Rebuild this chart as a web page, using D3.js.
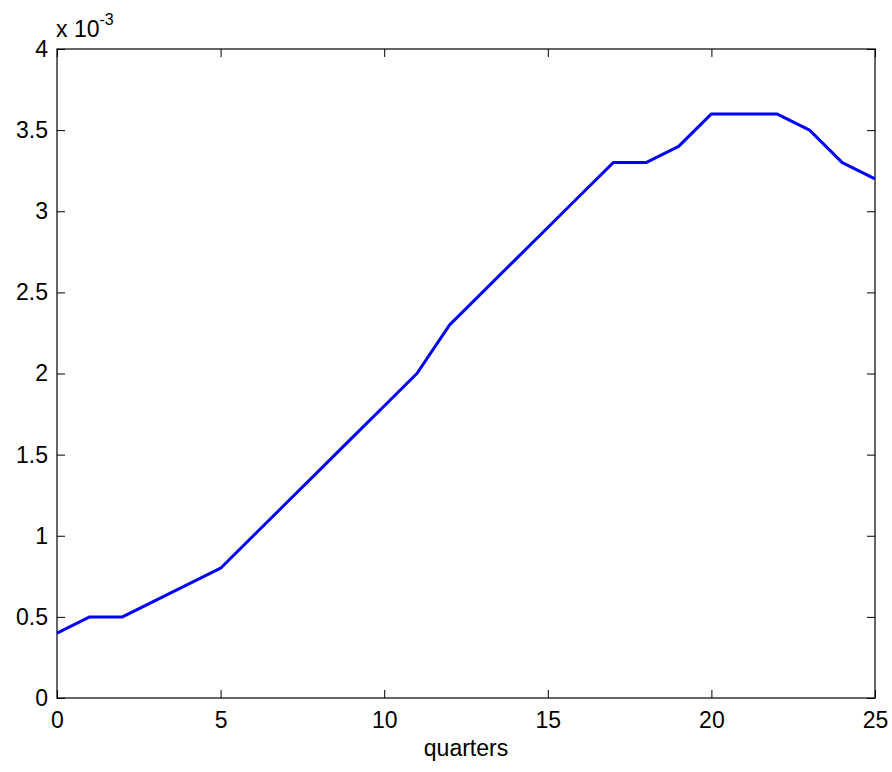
<!DOCTYPE html>
<html>
<head>
<meta charset="utf-8">
<script src="https://cdn.jsdelivr.net/npm/d3@7"></script>
<style>
  body { margin: 0; background: #fff; }
  svg text { font-family: "Liberation Sans", Arial, sans-serif; fill: #000; }
</style>
</head>
<body>
<svg id="chart" width="892" height="772"></svg>
<script>
// Data (values in units of 1e-3)
const quarters = d3.range(0, 26);
const values = [0.4, 0.5, 0.5, 0.6, 0.7, 0.8, 1.0, 1.2, 1.4, 1.6, 1.8, 2.0, 2.3, 2.5, 2.7,
                2.9, 3.1, 3.3, 3.3, 3.4, 3.6, 3.6, 3.6, 3.5, 3.3, 3.2];
const xTicks = [0, 5, 10, 15, 20, 25];
const yTicks = [0, 0.5, 1, 1.5, 2, 2.5, 3, 3.5, 4];

const margin = { left: 57, right: 17, top: 49, bottom: 74 };
const width = 892, height = 772;
const fontSize = 23;
const svg = d3.select('#chart');

const x = d3.scaleLinear().domain([0, 25]).range([margin.left, width - margin.right]);
const y = d3.scaleLinear().domain([0, 4]).range([height - margin.bottom, margin.top]);

const tickLen = 8;

// Axes with inward ticks
const xAxis = svg.append('g')
    .attr('transform', `translate(0,${y(0)})`)
    .call(d3.axisBottom(x).tickValues(xTicks).tickSizeInner(-tickLen).tickSizeOuter(0).tickPadding(14).tickFormat(d3.format('d')));
const xAxisTop = svg.append('g')
    .attr('transform', `translate(0,${y(4)})`)
    .call(d3.axisTop(x).tickValues(xTicks).tickSizeInner(-tickLen).tickSizeOuter(0).tickFormat(''));
const yAxis = svg.append('g')
    .attr('transform', `translate(${x(0)},0)`)
    .call(d3.axisLeft(y).tickValues(yTicks).tickSizeInner(-tickLen).tickSizeOuter(0).tickPadding(9).tickFormat(d3.format('')));
const yAxisRight = svg.append('g')
    .attr('transform', `translate(${x(25)},0)`)
    .call(d3.axisRight(y).tickValues(yTicks).tickSizeInner(-tickLen).tickSizeOuter(0).tickFormat(''));

[xAxis, xAxisTop, yAxis, yAxisRight].forEach(g => {
    g.attr('font-size', fontSize).attr('font-family', '"Liberation Sans", Arial, sans-serif');
    g.select('.domain').remove();
    g.selectAll('line').attr('stroke', '#000').attr('stroke-width', 1);
    g.selectAll('text').style('font-size', fontSize + 'px');
});

// Box
svg.append('rect')
    .attr('x', x(0)).attr('y', y(4))
    .attr('width', x(25) - x(0)).attr('height', y(0) - y(4))
    .attr('fill', 'none').attr('stroke', '#000').attr('stroke-width', 1.2);

// Line
const line = d3.line().x((d, i) => x(quarters[i])).y(d => y(d));
svg.append('path')
    .datum(values)
    .attr('d', line)
    .attr('fill', 'none')
    .attr('stroke', '#0000ff')
    .attr('stroke-width', 3)
    .attr('stroke-linejoin', 'round');

// Exponent label
const expo = svg.append('text')
    .attr('x', x(0) - 1)
    .attr('y', 37)
    .style('font-size', fontSize + 'px');
expo.append('tspan').text('x 10');
expo.append('tspan').attr('dy', -12).style('font-size', '16px').text('-3');

// X label
svg.append('text')
    .attr('x', (x(0) + x(25)) / 2)
    .attr('y', 756)
    .attr('text-anchor', 'middle')
    .style('font-size', fontSize + 'px')
    .text('quarters');
</script>
</body>
</html>
